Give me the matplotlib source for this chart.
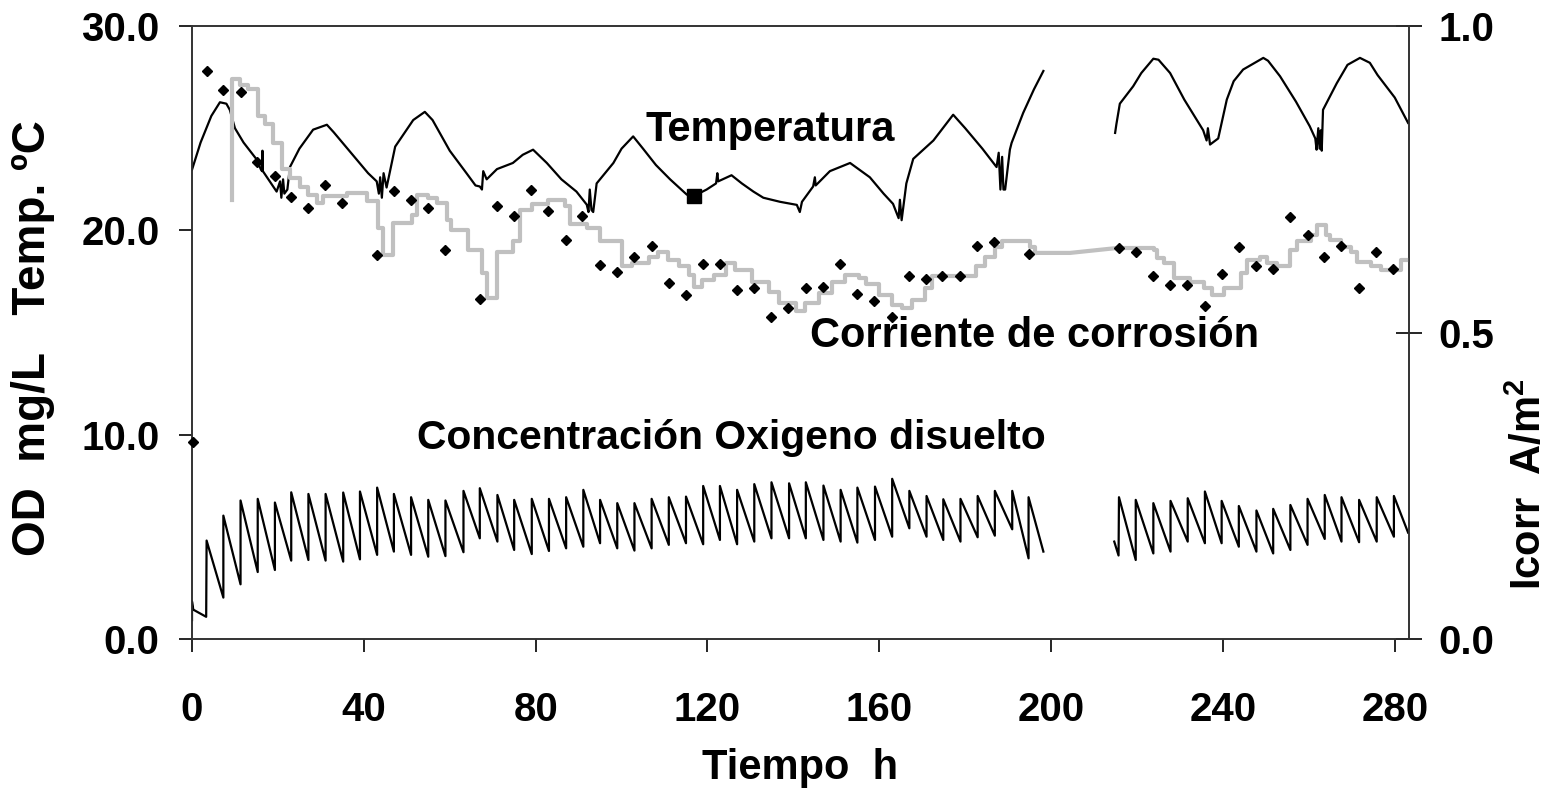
import numpy as np
import matplotlib
matplotlib.use('Agg')
from matplotlib import pyplot as plt

plt.rcParams['font.family'] = ['Liberation Sans', 'DejaVu Sans']
plt.rcParams['font.weight'] = 'bold'
plt.rcParams['mathtext.fontset'] = 'custom'
plt.rcParams['mathtext.rm'] = 'Liberation Sans:bold'
plt.rcParams['mathtext.bf'] = 'Liberation Sans:bold'

# --- temperature, ºC (left axis), two recording periods ---
temp1_t = [0, 2, 4.5, 6.5, 8.0, 8.8, 10, 12, 15.1, 16.0, 16.3, 16.4, 16.5, 19.7, 20.5, 20.8,
           21.2, 21.5, 22.2, 22.8, 25, 28.2, 31.4, 33, 37, 41, 43, 43.5, 43.8, 44.2, 44.6,
           45.3, 47.3, 51.5, 54.2, 56, 60, 63.9, 66, 67, 67.5, 67.8, 68.6, 71, 74.7, 77,
           79.4, 82.6, 86, 89.5, 91.9, 92.3, 92.6, 93.0, 93.4, 94.2, 98.1, 100, 102.7, 105,
           108, 111.3, 115.2, 117, 119.8, 122, 122.3, 122.5, 125.6, 128, 130.7, 133, 136.9,
           140.8, 141.5, 142, 144.6, 145, 145.2, 148.5, 153.2, 157.8, 161, 163.2, 164.5,
           164.8, 165.2, 166.3, 167.9, 172.6, 177.2, 180, 184, 187.3, 187.8, 188.2, 188.6,
           188.9, 189.3, 190.4, 190.8, 193.5, 196, 198.2]
temp1_v = [22.97, 24.3, 25.6, 26.27, 26.2, 25.9, 25.0, 24.3, 23.46, 23.0, 22.9, 23.9, 22.9,
           21.9, 22.4, 21.6, 22.5, 21.8, 22.0, 23.1, 24.0, 24.93, 25.17, 24.8, 23.8, 22.8,
           22.4, 21.8, 22.6, 21.6, 22.8, 22.1, 24.1, 25.4, 25.8, 25.4, 23.9, 22.8, 22.2,
           22.15, 22.0, 22.9, 22.5, 23.0, 23.3, 23.7, 23.95, 23.3, 22.5, 21.9, 21.26, 20.9,
           22.0, 21.0, 20.9, 22.3, 23.3, 24.0, 24.6, 24.0, 23.2, 22.5, 21.75, 21.7, 22.0,
           22.3, 22.8, 22.4, 22.7, 22.3, 21.9, 21.6, 21.4, 21.25, 20.9, 21.4, 22.15, 22.6,
           22.2, 22.9, 23.3, 22.6, 21.8, 21.3, 20.6, 21.5, 20.5, 22.3, 23.5, 24.4, 25.66,
           25.0, 24.0, 23.1, 23.8, 22.0, 23.6, 22.0, 22.0, 23.95, 24.28, 25.75, 26.9, 27.8]
temp2_t = [214.9, 215.2, 216, 219.1, 221, 223.8, 225, 227.7, 231, 235.4, 236.2, 236.5, 237,
           238.9, 240.9, 242.5, 244.7, 249.4, 250.5, 253.3, 257, 260.2, 261.5, 261.8, 262.2,
           262.5, 262.8, 263, 263.3, 266.5, 269, 271.9, 274.2, 276, 280, 283.1]
temp2_v = [24.77, 25.2, 26.2, 27.05, 27.7, 28.4, 28.35, 27.7, 26.4, 24.9, 24.4, 25.0, 24.2,
           24.5, 26.4, 27.3, 27.87, 28.44, 28.3, 27.54, 26.3, 25.1, 24.5, 23.95, 25.0, 24.0,
           24.9, 23.9, 25.9, 27.2, 28.1, 28.44, 28.2, 27.6, 26.5, 25.26]
temp_mark_t = [116.9]
temp_mark_v = [21.7]

# --- dissolved oxygen, mg/L (left axis): start points, then each aeration peak ---
od1_start_t = [0, 0, 0.3, 3.3]
od1_start_v = [0.94, 1.85, 1.45, 1.1]
od1_peak_t = [3.4, 7.3, 11.3, 15.3, 19.3, 23.1, 27.1, 31.1, 35.2, 39.1, 43.1, 47.0, 51.0,
              55.0, 59.0, 63.2, 67.0, 71.1, 75.0, 79.1, 83.1, 87.1, 91.1, 95.0, 99.0, 103.0,
              107.0, 111.0, 115.0, 119.0, 122.9, 126.9, 130.9, 134.9, 139.0, 142.9, 147.0,
              151.0, 154.9, 159.0, 163.0, 167.0, 171.0, 174.9, 178.9, 182.9, 186.9, 190.95,
              194.75]
od1_peak = [4.83, 6.05, 6.79, 6.87, 6.69, 7.19, 7.11, 7.11, 7.18, 7.23, 7.42, 7.11, 6.95,
            6.82, 6.79, 7.26, 7.39, 7.06, 6.82, 6.87, 6.87, 6.95, 7.31, 6.82, 6.66, 6.66,
            6.87, 6.95, 6.98, 7.50, 7.50, 7.31, 7.59, 7.68, 7.63, 7.68, 7.52, 7.31, 7.42,
            7.47, 7.85, 7.26, 7.01, 6.85, 6.87, 7.01, 7.26, 7.26, 6.95]
od1_trough = [2.04, 2.69, 3.29, 3.39, 3.85, 3.88, 3.85, 3.80, 3.91, 4.13, 4.29, 4.13, 4.04,
              4.07, 4.26, 4.94, 4.78, 4.37, 4.17, 4.32, 4.45, 4.53, 4.70, 4.45, 4.34, 4.45,
              4.62, 4.70, 4.65, 4.86, 4.65, 4.78, 4.94, 4.94, 4.94, 4.86, 4.78, 4.73, 4.86,
              5.02, 5.43, 5.02, 4.86, 4.78, 4.99, 5.07, 5.38, 3.96, 4.29]
od1_end_t = 198.2
od2_start_t = [214.7, 215.7]
od2_start_v = [4.78, 4.1]
od2_peak_t = [215.8, 219.7, 223.8, 227.8, 231.8, 235.8, 239.7, 243.7, 247.8, 251.7, 255.7,
              259.7, 263.7, 267.6, 271.7, 275.8, 279.8]
od2_peak = [6.95, 6.82, 6.66, 6.77, 6.90, 7.23, 6.77, 6.52, 6.30, 6.38, 6.57, 6.87, 7.06,
            6.95, 6.82, 6.95, 7.01]
od2_trough = [3.88, 4.20, 4.29, 4.78, 4.70, 4.70, 4.53, 4.29, 4.20, 4.37, 4.62, 4.91, 4.78,
              4.75, 4.78, 5.02, 5.22]
od2_end_t = 283.1

# --- corrosion current, A/m2 (right axis) ---
icorr_t = [0.15, 3.4, 7.3, 11.3, 15.2, 19.3, 23.0, 27.1, 31.0, 35.0, 43.0, 47.0, 51.0, 55.0,
           59.0, 67.0, 70.9, 75.0, 78.9, 82.9, 87.0, 90.9, 94.9, 99.0, 103.0, 107.0, 111.0,
           115.0, 118.9, 122.9, 126.9, 130.8, 134.8, 138.8, 142.9, 146.9, 150.8, 154.9,
           158.8, 162.9, 166.9, 170.9, 174.7, 178.8, 182.8, 186.8, 194.8, 215.8, 219.7,
           223.8, 227.7, 231.7, 235.8, 239.7, 243.8, 247.8, 251.7, 255.7, 259.7, 263.6,
           267.6, 271.6, 275.6, 279.6]
icorr_v = [0.321, 0.927, 0.896, 0.892, 0.778, 0.755, 0.721, 0.703, 0.741, 0.711, 0.627,
           0.731, 0.717, 0.703, 0.634, 0.555, 0.707, 0.690, 0.732, 0.698, 0.651, 0.690,
           0.610, 0.599, 0.623, 0.642, 0.581, 0.562, 0.612, 0.612, 0.570, 0.572, 0.525,
           0.540, 0.572, 0.574, 0.612, 0.563, 0.552, 0.525, 0.593, 0.588, 0.593, 0.593,
           0.642, 0.648, 0.628, 0.638, 0.632, 0.592, 0.578, 0.578, 0.543, 0.595, 0.640,
           0.608, 0.604, 0.689, 0.660, 0.624, 0.642, 0.573, 0.631, 0.604]

# smoothed corrosion current (grey stepped line)
icorr_s1_t = [9.4, 9.4, 11.2, 13.1, 15.4, 17.0, 18.9, 20.9, 22.8, 25.1, 27.1, 29.0, 30.6,
              36.0, 40.7, 43.4, 44.5, 46.9, 51.1, 52.3, 55.0, 57.0, 59.3, 60.4, 64.3, 67.4,
              68.6, 70.9, 74.8, 76.3, 79.1, 82.9, 86.8, 88.0, 91.9, 95.0, 100.1, 102.4,
              106.3, 108.6, 110.9, 113.3, 115.6, 116.8, 118.7, 121.5, 124.2, 126.5, 130.4,
              134.3, 136.6, 140.5, 142.8, 145.9, 149.0, 152.1, 155.2, 156.8, 159.9, 163.0,
              165.2, 167.6, 170.7, 172.3, 182.4, 184.7, 187.0, 188.6, 195.1, 196.3]
icorr_s1_v = [0.717, 0.913, 0.903, 0.897, 0.853, 0.840, 0.810, 0.767, 0.752, 0.738, 0.725,
              0.711, 0.722, 0.728, 0.714, 0.670, 0.627, 0.679, 0.692, 0.725, 0.720, 0.711,
              0.684, 0.668, 0.635, 0.597, 0.557, 0.632, 0.650, 0.700, 0.710, 0.717, 0.707,
              0.677, 0.670, 0.650, 0.608, 0.613, 0.624, 0.632, 0.619, 0.608, 0.594, 0.575,
              0.586, 0.594, 0.613, 0.602, 0.583, 0.567, 0.548, 0.535, 0.548, 0.565, 0.583,
              0.594, 0.589, 0.580, 0.562, 0.545, 0.540, 0.553, 0.573, 0.592, 0.608, 0.624,
              0.640, 0.649, 0.640, 0.630]
icorr_gap_t = [196.3, 204.4, 215.3]
icorr_gap_v = [0.630, 0.630, 0.638]
icorr_s2_t = [215.3, 224.0, 224.7, 226.2, 228.5, 232.4, 235.5, 237.5, 240.2, 244.1, 245.6,
              248.7, 250.3, 252.6, 255.7, 257.3, 260.4, 261.9, 263.9, 265.0, 267.4, 269.7,
              271.3, 274.4, 276.7, 281.4, 283.3]
icorr_s2_v = [0.638, 0.635, 0.622, 0.613, 0.589, 0.583, 0.573, 0.562, 0.573, 0.597, 0.619,
              0.624, 0.613, 0.608, 0.635, 0.649, 0.660, 0.676, 0.660, 0.651, 0.640, 0.632,
              0.616, 0.608, 0.602, 0.619, 0.619]


def sawtooth(start_t, start_v, peak_t, peak_v, trough_v, end_t):
    # each peak falls to its trough just as the next aeration starts
    xs, ys = list(start_t), list(start_v)
    for i in range(len(peak_t)):
        nxt = peak_t[i + 1] if i + 1 < len(peak_t) else end_t
        xs += [peak_t[i], nxt]
        ys += [peak_v[i], trough_v[i]]
    return xs, ys


W, H = 1566, 791
fig = plt.figure(figsize=(W / 100, H / 100), dpi=100)
x0, x1, y0, y1 = 192, 1408.5, 639.3, 26
ax = fig.add_axes([x0 / W, 1 - y0 / H, (x1 - x0) / W, (y0 - y1) / H])
ax2 = ax.twinx()

for t, v in [(temp1_t, temp1_v), (temp2_t, temp2_v)]:
    ax.plot(t, v, color='black', lw=1.6, zorder=3)
ax.plot(temp_mark_t, temp_mark_v, 's', color='black', markersize=10, zorder=4)

for args in [(od1_start_t, od1_start_v, od1_peak_t, od1_peak, od1_trough, od1_end_t),
             (od2_start_t, od2_start_v, od2_peak_t, od2_peak, od2_trough, od2_end_t)]:
    xs, ys = sawtooth(*args)
    ax.plot(xs, ys, color='black', lw=1.6, zorder=3)

grey = '#c0c0c0'
ax2.plot(icorr_s1_t, icorr_s1_v, color=grey, lw=3.0, drawstyle='steps-post', zorder=2)
ax2.plot(icorr_gap_t, icorr_gap_v, color=grey, lw=3.0, zorder=2)
ax2.plot(icorr_s2_t, icorr_s2_v, color=grey, lw=3.0, drawstyle='steps-post', zorder=2)
ax2.plot(icorr_t, icorr_v, 'D', color='black', markersize=5.3, zorder=5, clip_on=False)

ax.set_xlim(0, 283.2)
ax.set_ylim(0, 30)
ax2.set_ylim(0, 1.0)

ax.set_xticks([0, 40, 80, 120, 160, 200, 240, 280])
ax.set_yticks([0, 10, 20, 30])
ax.set_yticklabels(['0.0', '10.0', '20.0', '30.0'])
ax2.set_yticks([0, 0.5, 1.0])
ax2.set_yticklabels(['0.0', '0.5', '1.0'])

fs = 29
ax.tick_params(axis='x', direction='out', length=9.4, width=1.2, pad=28, labelsize=fs)
ax.tick_params(axis='y', direction='out', length=9.4, width=1.2, pad=14, labelsize=fs)
ax2.tick_params(axis='y', direction='inout', length=18.7, width=1.2, pad=12, labelsize=fs)
for a in (ax, ax2):
    for s in a.spines.values():
        s.set_linewidth(1.2)
        s.set_color('#333333')

ax.text(134.5, 24.36, 'Temperatura', ha='center', va='baseline', fontsize=30, weight='bold')
ax.text(196.2, 14.3, 'Corriente de corrosión', ha='center', va='baseline', fontsize=30,
        weight='bold')
ax.text(125.5, 9.31, 'Concentración Oxigeno disuelto', ha='center', va='baseline',
        fontsize=29.4, weight='bold')

fig.text(33 / W, 1 - 338 / H, 'OD  mg/L   Temp. ºC', rotation=90, ha='center', va='center',
         fontsize=33, weight='bold')
fig.text(1529 / W, 1 - 484 / H, r'Icorr  A/m$^{2}$', rotation=90, ha='center', va='center',
         fontsize=30, weight='bold')
fig.text(800 / W, 1 - 779 / H, 'Tiempo  h', ha='center', va='baseline', fontsize=30,
         weight='bold')

fig.savefig('out.png', dpi=100)
